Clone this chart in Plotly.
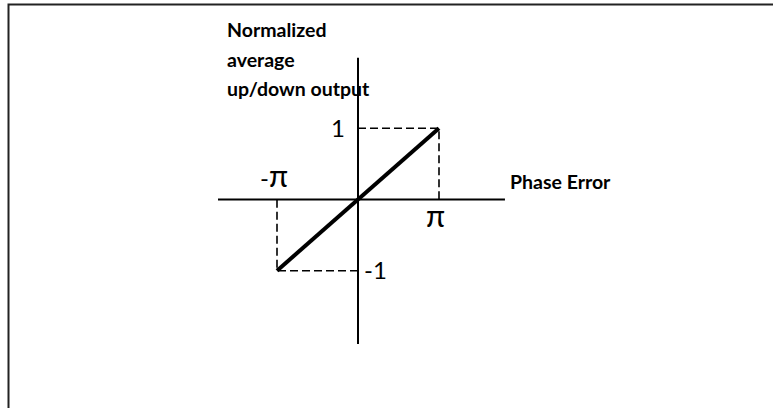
import numpy as np
import plotly.graph_objects as go

# Phase-detector transfer characteristic: linear from (-pi, -1) to (pi, 1)
phase_error = [-np.pi, np.pi]
avg_output = [-1.0, 1.0]

# Labels drawn next to the characteristic's end points
x_tick_labels = ["-π", "π"]
y_tick_labels = ["-1", "1"]
x_title = "Phase Error"
y_title_lines = ["Normalized", "average", "up/down output"]

# Extent of the drawn cross-shaped axes (data units)
x_axis_span = [-5.43, 5.70]
y_axis_span = [-2.03, 1.99]

W, H = 773, 408
INK = "#000000"
TXT = dict(family="Lato, 'Noto Sans', sans-serif", color=INK)


def big_pi(label):
    # the pi glyph is set larger than the minus sign next to it
    return label.replace("π", "<span style='font-size:31px'>π</span>")


fig = go.Figure()

# Cross-shaped axes through the origin
fig.add_trace(go.Scatter(x=x_axis_span, y=[0, 0], mode="lines",
                         line=dict(color=INK, width=2), hoverinfo="skip"))
fig.add_trace(go.Scatter(x=[0, 0], y=y_axis_span, mode="lines",
                         line=dict(color=INK, width=2), hoverinfo="skip"))

# Dashed guides from the end points to both axes
x_lo, x_hi = phase_error
y_lo, y_hi = avg_output
guide = dict(color=INK, width=1.6, dash="8px,4px")
fig.add_trace(go.Scatter(x=[0, x_hi, x_hi], y=[y_hi, y_hi, 0], mode="lines",
                         line=guide, hoverinfo="skip"))
fig.add_trace(go.Scatter(x=[0, x_lo, x_lo], y=[y_lo, y_lo, 0], mode="lines",
                         line=guide, hoverinfo="skip"))

# The transfer characteristic itself
fig.add_trace(go.Scatter(x=phase_error, y=avg_output, mode="lines",
                         line=dict(color=INK, width=4), hoverinfo="skip"))

annotations = []
num_font = dict(TXT, size=24)
# -pi above the axis, pi below it
annotations.append(dict(x=x_lo, y=0, text=big_pi(x_tick_labels[0]),
                        showarrow=False, xanchor="center", yanchor="bottom",
                        xshift=-3, yshift=4, font=num_font))
annotations.append(dict(x=x_hi, y=0, text=big_pi(x_tick_labels[1]),
                        showarrow=False, xanchor="center", yanchor="top",
                        xshift=-4, yshift=6, font=num_font))
# -1 right of the vertical axis, 1 left of it
annotations.append(dict(x=0, y=y_lo, text=y_tick_labels[0], showarrow=False,
                        xanchor="left", yanchor="middle", xshift=4, yshift=1,
                        font=num_font))
annotations.append(dict(x=0, y=y_hi, text=y_tick_labels[1], showarrow=False,
                        xanchor="right", yanchor="middle", xshift=-11, yshift=1,
                        font=num_font))

bold = dict(TXT, size=19.5, weight="bold")
annotations.append(dict(x=508 / W, y=1 - 181 / H, xref="paper", yref="paper",
                        text=x_title, showarrow=False, xanchor="left",
                        yanchor="middle", font=bold))
for i, line in enumerate(y_title_lines):
    annotations.append(dict(x=225 / W, y=1 - (30 + 29 * i) / H,
                            xref="paper", yref="paper", text=line,
                            showarrow=False, xanchor="left", yanchor="middle",
                            font=bold))

# Frame edges along the left and top, as one open path
fx, fy = 8.5 / W, 1 - 4.5 / H
shapes = [
    dict(type="path", xref="paper", yref="paper",
         path=f"M {fx},0 L {fx},{fy} L 1,{fy}",
         line=dict(color="#222222", width=2)),
]

px_per_rad = 81 / np.pi
px_per_unit = 71.2
x0_px, y0_px = 358, 199.5
fig.update_layout(
    width=W, height=H, autosize=False,
    margin=dict(l=0, r=0, t=0, b=0, pad=0),
    paper_bgcolor="white", plot_bgcolor="white",
    showlegend=False,
    xaxis=dict(visible=False, fixedrange=True,
               range=[-x0_px / px_per_rad, (W - x0_px) / px_per_rad]),
    yaxis=dict(visible=False, fixedrange=True,
               range=[(y0_px - H) / px_per_unit, y0_px / px_per_unit]),
    annotations=annotations,
    shapes=shapes,
)

fig.write_html("out.html")
